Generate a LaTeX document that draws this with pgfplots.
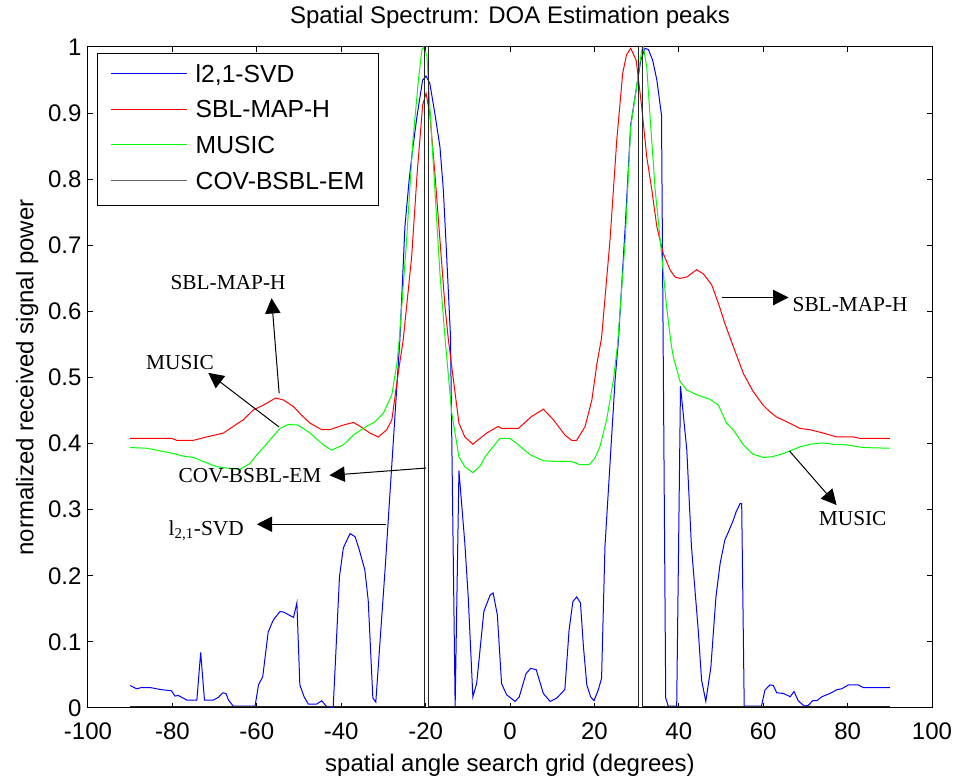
\documentclass[border=0pt]{standalone}
\usepackage{fontspec}
\setmainfont{Liberation Sans}
\newfontfamily\tnr{Liberation Serif}
\usepackage{pgfplots}
\pgfplotsset{compat=1.18}
\usetikzlibrary{arrows.meta}
\definecolor{mblue}{rgb}{0,0,1}
\definecolor{mred}{rgb}{1,0,0}
\definecolor{mgreen}{rgb}{0,1,0}
\newcommand{\lgline}[1]{\textcolor{#1}{\rule[6.3pt]{57pt}{0.75pt}}}
\newcommand{\lgstrut}{\rule[-4pt]{0pt}{17pt}}
\begin{document}
\begin{tikzpicture}
\begin{axis}[name=ax, width=633pt, height=495.75pt, scale only axis,
  xmin=-100, xmax=100, ymin=0, ymax=1,
  xtick={-100,-80,-60,-40,-20,0,20,40,60,80,100},
  xticklabels={-100,-80,-60,-40,-20,0,20,40,60,80,100},
  ytick={0,0.1,0.2,0.3,0.4,0.5,0.6,0.7,0.8,0.9,1},
  yticklabels={0,0.1,0.2,0.3,0.4,0.5,0.6,0.7,0.8,0.9,1},
  tick align=inside, major tick length=4pt,
  axis line style={line width=0.75pt},
  every tick/.style={black, line width=0.75pt},
  tick label style={font=\fontsize{18}{20}\selectfont},
  xticklabel style={anchor=base, inner sep=0pt, yshift=-24pt},
  yticklabel style={anchor=east, inner sep=0pt, xshift=-4.7pt},
  title={Spatial Spectrum: DOA Estimation peaks},
  title style={at={(axis description cs:0.5,1)}, anchor=base, yshift=11.6pt, inner sep=0pt, font=\fontsize{18}{20}\selectfont},
  xlabel={spatial angle search grid (degrees)},
  xlabel style={at={(axis description cs:0.5,0)}, anchor=base, yshift=-47.8pt, inner sep=0pt, font=\fontsize{18}{20}\selectfont},
  ylabel={normalized received signal power},
  ylabel style={at={(axis description cs:-0.0648,0.5)}, anchor=base, inner sep=0pt, font=\fontsize{18}{20}\selectfont},
  every axis plot/.append style={line width=0.75pt},
]
\addplot[draw=mblue] coordinates {
(-90,0.034) (-88.5,0.029) (-87.3,0.031) (-85.3,0.031) (-82.9,0.028) (-80.2,0.026) (-79.4,0.018) (-78.6,0.019) (-76.6,0.012) (-74.2,0.012) (-73.3,0.084) (-72.4,0.012) (-70.3,0.012) (-69.1,0.016) (-68.1,0.023) (-67.3,0.022) (-66.7,0.012) (-65.6,0.003) (-60.4,0.003) (-59.6,0.035) (-58.6,0.047) (-57.3,0.115) (-56.1,0.133) (-54.5,0.146) (-53.6,0.145) (-51.3,0.137) (-50.5,0.159) (-49.8,0.035) (-48.8,0.017) (-47.8,0.006) (-45.8,0.006) (-44.6,0.011) (-43.6,0.003) (-41.9,0.0) (-40.4,0.199) (-39.5,0.242) (-37.9,0.264) (-36.7,0.259) (-35.7,0.239) (-34.4,0.209) (-33.6,0.163) (-32.5,0.015) (-31.8,0.009) (-29.6,0.210) (-26.1,0.557) (-24.9,0.728) (-23.9,0.799) (-23.0,0.849) (-22.0,0.897) (-20.7,0.950) (-19.9,0.956) (-19.0,0.945) (-17.8,0.899) (-16.6,0.849) (-15.8,0.784) (-15.0,0.683) (-14.1,0.562) (-13.0,0.002) (-12.1,0.359) (-10.7,0.249) (-9.9,0.168) (-8.8,0.017) (-7.9,0.037) (-7.1,0.088) (-6.2,0.146) (-4.7,0.171) (-4.0,0.174) (-3.0,0.141) (-2.0,0.037) (-0.8,0.020) (0.2,0.015) (1.2,0.010) (2.2,0.017) (3.8,0.052) (4.9,0.060) (6.2,0.058) (7.9,0.022) (9.5,0.010) (11.1,0.015) (13.0,0.028) (14.0,0.118) (14.9,0.161) (15.8,0.168) (16.7,0.159) (17.4,0.093) (18.2,0.035) (19.1,0.017) (19.9,0.011) (20.9,0.027) (21.7,0.045) (22.5,0.244) (23.7,0.370) (24.9,0.496) (25.7,0.557) (27.3,0.728) (28.6,0.882) (30.0,0.940) (31.0,0.980) (32.0,0.998) (32.8,0.996) (33.8,0.980) (34.8,0.950) (35.9,0.897) (36.9,0.015) (37.5,0.003) (39.5,0.003) (40.4,0.487) (41.9,0.390) (43.0,0.244) (44.6,0.118) (45.4,0.042) (46.4,0.010) (47.6,0.062) (48.8,0.168) (49.8,0.219) (50.9,0.254) (51.8,0.267) (52.9,0.284) (53.6,0.297) (54.5,0.309) (54.9,0.309) (55.5,0.003) (59.6,0.003) (60.4,0.027) (61.6,0.035) (62.4,0.034) (63.2,0.023) (64.8,0.022) (66.4,0.017) (67.3,0.025) (68.3,0.011) (69.7,0.003) (70.7,0.004) (71.7,0.011) (72.7,0.011) (73.9,0.017) (75.8,0.022) (77.6,0.028) (78.6,0.029) (80.2,0.035) (82.5,0.035) (83.7,0.031) (90,0.031)
};
\addplot[draw=mred] coordinates {
(-90,0.408) (-80.2,0.408) (-79.0,0.405) (-75.0,0.405) (-71.9,0.410) (-67.9,0.416) (-65.6,0.426) (-63.2,0.436) (-60.8,0.451) (-58.5,0.458) (-55.5,0.469) (-53.7,0.466) (-51.3,0.456) (-49.4,0.443) (-47.4,0.431) (-44.6,0.421) (-42.7,0.421) (-39.5,0.428) (-37.1,0.432) (-35.5,0.426) (-33.2,0.416) (-31.2,0.410) (-29.2,0.421) (-28.0,0.436) (-26.5,0.506) (-25.3,0.557) (-23.3,0.683) (-22.0,0.809) (-20.7,0.912) (-19.9,0.930) (-19.0,0.899) (-17.8,0.809) (-16.6,0.708) (-15.4,0.607) (-14.6,0.557) (-13.4,0.496) (-12.1,0.431) (-10.7,0.410) (-8.8,0.399) (-7.1,0.408) (-5.5,0.416) (-2.8,0.426) (-2.0,0.423) (2.0,0.423) (5.1,0.441) (7.9,0.452) (10.3,0.436) (13.0,0.413) (14.6,0.405) (15.8,0.405) (17.8,0.426) (19.4,0.466) (20.6,0.521) (21.7,0.560) (23.7,0.708) (25.3,0.859) (26.7,0.960) (27.6,0.988) (28.6,0.998) (29.9,0.980) (31.2,0.910) (32.4,0.834) (33.6,0.784) (34.8,0.728) (36.3,0.688) (37.9,0.663) (39.1,0.652) (40.3,0.650) (41.9,0.652) (44.2,0.663) (45.8,0.657) (47.8,0.640) (49.4,0.612) (50.9,0.582) (52.9,0.547) (55.3,0.506) (57.6,0.479) (60.0,0.458) (61.6,0.448) (63.2,0.440) (65.6,0.433) (68.7,0.423) (71.1,0.421) (74.2,0.416) (77.4,0.410) (81.4,0.410) (82.9,0.408) (90,0.408)
};
\addplot[draw=mgreen] coordinates {
(-90,0.394) (-86.1,0.393) (-82.9,0.389) (-79.8,0.385) (-77.4,0.381) (-75.0,0.379) (-71.9,0.371) (-69.5,0.365) (-67.1,0.363) (-64.0,0.361) (-61.6,0.370) (-60.0,0.383) (-57.6,0.400) (-54.5,0.423) (-52.5,0.429) (-50.2,0.428) (-47.4,0.416) (-44.2,0.398) (-42.3,0.390) (-39.5,0.398) (-37.1,0.413) (-34.8,0.423) (-32.0,0.433) (-30.0,0.446) (-28.0,0.474) (-26.8,0.521) (-26.2,0.560) (-24.5,0.708) (-23.0,0.859) (-21.7,0.950) (-20.9,0.995) (-20.5,1.0) (-19.7,0.988) (-19.0,0.910) (-17.8,0.784) (-16.6,0.657) (-15.4,0.560) (-13.8,0.446) (-12.1,0.380) (-10.7,0.365) (-8.8,0.356) (-7.1,0.366) (-5.9,0.380) (-4.3,0.393) (-2.4,0.408) (0,0.408) (2.0,0.398) (4.8,0.383) (7.9,0.374) (11.1,0.373) (14.6,0.373) (16.6,0.368) (18.8,0.368) (20.1,0.378) (21.3,0.395) (22.9,0.436) (24.5,0.496) (25.5,0.550) (27.3,0.708) (28.6,0.879) (30.0,0.940) (31.2,0.995) (31.6,1.0) (32.4,0.970) (33.3,0.884) (34.4,0.784) (35.9,0.688) (37.1,0.607) (38.2,0.550) (38.7,0.531) (40.3,0.494) (41.9,0.481) (44.2,0.474) (47.4,0.467) (49.4,0.458) (51.3,0.431) (52.9,0.421) (55.3,0.398) (57.6,0.384) (60.0,0.379) (62.0,0.380) (64.3,0.384) (66.4,0.389) (68.7,0.395) (71.1,0.399) (73.9,0.401) (76.6,0.399) (79.8,0.398) (83.7,0.394) (90,0.393)
};
\addplot[draw=black!85] coordinates {
(-90,0.003) (-20.3,0.003) (-20.3,1) (-19.3,1) (-19.3,0.003) (30.4,0.003) (30.4,1) (31.5,1) (31.5,0.003) (90,0.003)
};

% legend box
\node[draw=black, line width=0.75pt, fill=white, anchor=north west, inner xsep=10.6pt, inner ysep=8pt,
  font=\fontsize{18.5}{20}\selectfont] at (axis description cs:0.0103,0.9905) {\renewcommand{\arraystretch}{0}%
  \begin{tabular}{@{}l@{\hspace{6.3pt}}l@{}}
  \lgline{mblue} & \lgstrut l2,1-SVD\\[13.7pt]
  \lgline{mred} & \lgstrut SBL-MAP-H\\[13.7pt]
  \lgline{mgreen} & \lgstrut MUSIC\\[13.7pt]
  \lgline{black!60} & \lgstrut COV-BSBL-EM
  \end{tabular}};

% annotations
\begin{scope}[font=\tnr\fontsize{16}{18}\selectfont, line width=0.75pt, >={Triangle[length=11.5pt,width=11.5pt]}]
\node at (axis cs:-66.8,0.643) {SBL-MAP-H};
\draw[->] (axis cs:-54.7,0.476) -- (axis cs:-56.5,0.620);
\node at (axis cs:-78.2,0.522) {MUSIC};
\draw[->] (axis cs:-54.7,0.425) -- (axis cs:-71.5,0.507);
\node at (axis cs:-61.6,0.352) {COV-BSBL-EM};
\draw[->] (axis cs:-19.9,0.363) -- (axis cs:-42.8,0.352);
\node at (axis cs:-72.0,0.268) {l\textsubscript{2,1}-SVD};
\draw[->] (axis cs:-29.4,0.278) -- (axis cs:-60.0,0.278);
\node at (axis cs:80.6,0.610) {SBL-MAP-H};
\draw[->] (axis cs:50.2,0.621) -- (axis cs:66.0,0.621);
\node at (axis cs:81.2,0.286) {MUSIC};
\draw[->] (axis cs:66.2,0.389) -- (axis cs:77.4,0.307);
\end{scope}
\end{axis}
\pgfresetboundingbox
\path[use as bounding box] ([xshift=-66pt,yshift=-54.75pt]ax.south west) rectangle ([xshift=18pt,yshift=35.25pt]ax.north east);
\end{tikzpicture}
\end{document}
